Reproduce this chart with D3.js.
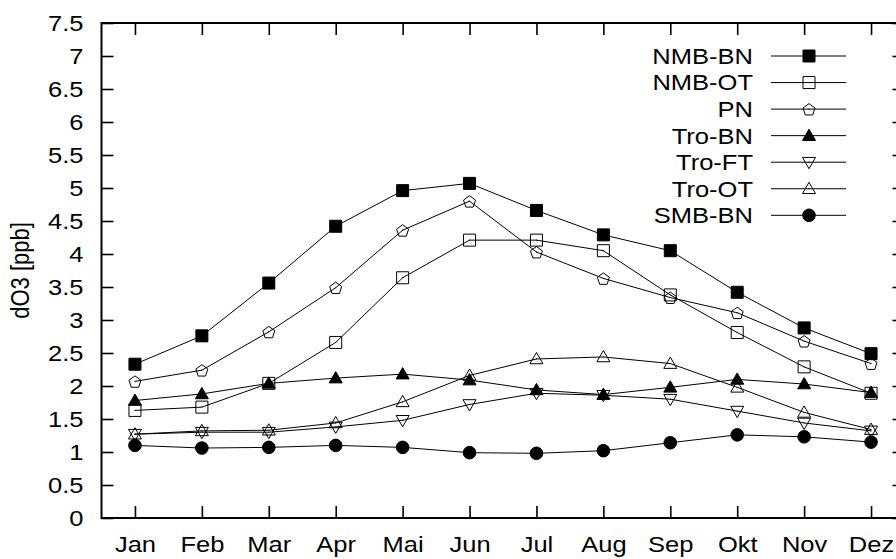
<!DOCTYPE html>
<html>
<head>
<meta charset="utf-8">
<script src="https://cdn.jsdelivr.net/npm/d3@7/dist/d3.min.js"></script>
<style>
  body { margin: 0; background: #fff; }
  svg { display: block; font-family: "Liberation Sans", Arial, sans-serif; }
</style>
</head>
<body>
<svg id="chart" width="896" height="559"></svg>
<script>
// Monate und Werte (dO3 in ppb)
const months = ["Jan", "Feb", "Mar", "Apr", "Mai", "Jun", "Jul", "Aug", "Sep", "Okt", "Nov", "Dez"];
const yTicks = [0, 0.5, 1, 1.5, 2, 2.5, 3, 3.5, 4, 4.5, 5, 5.5, 6, 6.5, 7, 7.5];

const nmbBN = [2.33, 2.76, 3.56, 4.42, 4.96, 5.07, 4.66, 4.29, 4.05, 3.42, 2.88, 2.49];
const nmbOT = [1.63, 1.68, 2.04, 2.66, 3.64, 4.21, 4.21, 4.05, 3.38, 2.81, 2.29, 1.89];
const pn    = [2.07, 2.24, 2.82, 3.49, 4.36, 4.80, 4.03, 3.63, 3.34, 3.11, 2.68, 2.34];
const troBN = [1.78, 1.88, 2.04, 2.12, 2.18, 2.09, 1.94, 1.87, 1.98, 2.10, 2.03, 1.90];
const troFT = [1.27, 1.30, 1.30, 1.38, 1.48, 1.72, 1.89, 1.86, 1.80, 1.62, 1.44, 1.32];
const troOT = [1.27, 1.32, 1.33, 1.44, 1.76, 2.16, 2.41, 2.44, 2.34, 1.98, 1.60, 1.34];
const smbBN = [1.10, 1.06, 1.07, 1.10, 1.07, 0.99, 0.98, 1.02, 1.14, 1.26, 1.23, 1.15];

const series = [
    { name: "NMB-BN", values: nmbBN, marker: "square", filled: true },
    { name: "NMB-OT", values: nmbOT, marker: "square", filled: false },
    { name: "PN", values: pn, marker: "pentagon", filled: false },
    { name: "Tro-BN", values: troBN, marker: "triUp", filled: true },
    { name: "Tro-FT", values: troFT, marker: "triDown", filled: false },
    { name: "Tro-OT", values: troOT, marker: "triUp", filled: false },
    { name: "SMB-BN", values: smbBN, marker: "circle", filled: true }
];

const svg = d3.select("#chart");
const sx = 1.16; // Schrift ist im Original horizontal gestreckt

// Skalen: Monatsindex 1..12, Rand je halber Monat
const x = d3.scaleLinear().domain([0.5, 12.5]).range([101.5, 904.5]);
const y = d3.scaleLinear().domain([0, 7.5]).range([518, 23]);

// Marker-Pfade (zentriert bei 0,0)
function markerPath(type) {
    const p = d3.path();
    if (type === "square") {
        p.rect(-6, -6, 12, 12);
    } else if (type === "pentagon") {
        const r = 6.3;
        for (let i = 0; i < 5; i++) {
            const a = -Math.PI / 2 + i * 2 * Math.PI / 5;
            const px = r * Math.cos(a), py = r * Math.sin(a) + 0.8;
            if (i === 0) p.moveTo(px, py); else p.lineTo(px, py);
        }
        p.closePath();
    } else if (type === "triUp") {
        p.moveTo(0, -6.5); p.lineTo(6.5, 4.8); p.lineTo(-6.5, 4.8); p.closePath();
    } else if (type === "triDown") {
        p.moveTo(0, 6.5); p.lineTo(6.5, -4.8); p.lineTo(-6.5, -4.8); p.closePath();
    } else if (type === "circle") {
        p.arc(0, 0, 6.3, 0, 2 * Math.PI);
    }
    return p.toString();
}

function drawMarker(g, s) {
    g.append("path")
        .attr("d", markerPath(s.marker))
        .attr("fill", s.filled ? "#000" : "#fff")
        .attr("fill-opacity", s.filled ? 1 : 0)
        .attr("stroke", "#000")
        .attr("stroke-width", 1);
    if (!s.filled) {
        g.append("rect").attr("x", -0.5).attr("y", -0.5).attr("width", 1).attr("height", 1).attr("fill", "#000");
    }
}

// Achsen
const yAxis = d3.axisLeft(y).tickValues(yTicks).tickSize(-12).tickPadding(18).tickFormat(d => String(d));
const yAxisR = d3.axisRight(y).tickValues(yTicks).tickSize(-12).tickFormat("");
const xAxis = d3.axisBottom(x).tickValues(d3.range(1, 13)).tickSize(-12).tickPadding(18).tickFormat(d => months[d - 1]);
const xAxisT = d3.axisTop(x).tickValues(d3.range(1, 13)).tickSize(-12).tickFormat("");

function styleAxis(g) {
    g.select(".domain").remove();
    g.selectAll(".tick line").attr("stroke", "#000").attr("stroke-width", 1.6);
    g.selectAll(".tick text")
        .attr("fill", "#000")
        .attr("font-size", 22)
        .attr("font-family", "'Liberation Sans', Arial, sans-serif")
        .attr("x", function () { return +d3.select(this).attr("x") / sx; })
        .attr("transform", `scale(${sx},1)`);
}

svg.append("g").attr("transform", `translate(${x(0.5)},0)`).call(yAxis).call(styleAxis);
svg.append("g").attr("transform", `translate(${x(12.5)},0)`).call(yAxisR).call(styleAxis);
svg.append("g").attr("transform", `translate(0,${y(0)})`).call(xAxis).call(styleAxis)
    .selectAll(".tick text").attr("dy", "0.71em");
svg.append("g").attr("transform", `translate(0,${y(7.5)})`).call(xAxisT).call(styleAxis);

// Rahmen
svg.append("rect")
    .attr("x", x(0.5)).attr("y", y(7.5))
    .attr("width", x(12.5) - x(0.5)).attr("height", y(0) - y(7.5))
    .attr("fill", "none").attr("stroke", "#000").attr("stroke-width", 2);

// Y-Achsentitel
svg.append("text")
    .attr("transform", `translate(29,${(y(0) + y(7.5)) / 2}) scale(${sx},1) rotate(-90)`)
    .attr("text-anchor", "middle")
    .attr("font-size", 22)
    .text("dO3 [ppb]");

// Linien und Marker
const line = d3.line().x((d, i) => x(i + 1)).y(d => y(d));

series.forEach(s => {
    svg.append("path")
        .datum(s.values)
        .attr("d", line)
        .attr("fill", "none")
        .attr("stroke", "#000")
        .attr("stroke-width", 1);
});

series.forEach(s => {
    svg.append("g")
        .selectAll("g")
        .data(s.values)
        .enter().append("g")
        .attr("transform", (d, i) => `translate(${x(i + 1)},${y(d)})`)
        .each(function () { drawMarker(d3.select(this), s); });
});

// Legende
const legend = svg.append("g");
series.forEach((s, i) => {
    const ly = 56 + i * 26.55;
    legend.append("text")
        .attr("x", 753 / sx).attr("y", ly).attr("dy", "0.36em")
        .attr("transform", `scale(${sx},1)`)
        .attr("text-anchor", "end")
        .attr("font-size", 22)
        .text(s.name);
    legend.append("line")
        .attr("x1", 771).attr("x2", 846).attr("y1", ly).attr("y2", ly)
        .attr("stroke", "#000").attr("stroke-width", 1);
    drawMarker(legend.append("g").attr("transform", `translate(809,${ly})`), s);
});
</script>
</body>
</html>
